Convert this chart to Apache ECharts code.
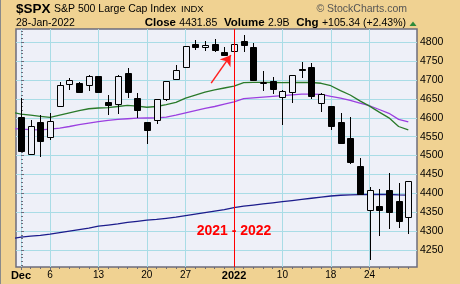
<!DOCTYPE html>
<html><head><meta charset="utf-8">
<script src="https://cdn.jsdelivr.net/npm/echarts@6/dist/echarts.min.js"></script>
<style>html,body{margin:0;padding:0;background:#F0D292;}#c{width:460px;height:284px;}</style>
</head><body><div id="c"></div>
<script>
const dates = ['Dec 1','Dec 2','Dec 3','Dec 6','Dec 7','Dec 8','Dec 9','Dec 10','Dec 13','Dec 14','Dec 15','Dec 16','Dec 17','Dec 20','Dec 21','Dec 22','Dec 23','Dec 27','Dec 28','Dec 29','Dec 30','Dec 31','Jan 3','Jan 4','Jan 5','Jan 6','Jan 7','Jan 10','Jan 11','Jan 12','Jan 13','Jan 14','Jan 18','Jan 19','Jan 20','Jan 21','Jan 24','Jan 25','Jan 26','Jan 27','Jan 28'];
const open = [4602.82,4504.73,4589.49,4548.37,4631.97,4690.86,4691.00,4687.64,4710.30,4642.99,4636.46,4719.13,4652.50,4587.90,4594.96,4650.36,4703.96,4733.99,4795.49,4788.64,4794.23,4775.21,4778.14,4804.51,4787.99,4693.39,4697.66,4655.34,4669.14,4728.59,4733.56,4637.99,4632.24,4588.03,4547.35,4471.38,4356.32,4366.64,4408.43,4380.58,4336.19];
const high = [4652.94,4595.46,4608.03,4612.60,4694.04,4705.06,4695.26,4713.57,4710.30,4660.47,4712.60,4731.99,4666.70,4587.90,4651.14,4697.67,4740.74,4791.49,4807.02,4804.06,4808.93,4786.83,4796.64,4818.62,4797.70,4725.01,4707.95,4673.02,4714.13,4748.83,4744.13,4665.13,4632.24,4611.55,4602.11,4494.52,4417.35,4411.01,4453.23,4428.74,4432.72];
const low = [4510.27,4504.73,4495.12,4540.51,4631.97,4674.52,4665.98,4670.24,4667.60,4606.52,4611.22,4651.89,4600.22,4531.10,4583.16,4645.53,4703.96,4733.99,4780.04,4778.08,4775.33,4765.75,4758.17,4774.27,4699.44,4671.26,4662.74,4582.24,4638.27,4706.71,4650.29,4614.75,4568.70,4530.20,4477.95,4395.34,4222.62,4287.11,4304.80,4309.50,4292.46];
const close = [4513.04,4577.10,4538.43,4591.67,4686.75,4701.21,4667.45,4712.02,4668.97,4634.09,4709.85,4668.67,4620.64,4568.02,4649.23,4696.56,4725.79,4791.19,4786.35,4793.06,4778.73,4766.18,4796.56,4793.54,4700.58,4696.05,4677.03,4670.29,4713.07,4726.35,4659.03,4662.85,4577.11,4532.76,4482.73,4397.94,4410.13,4356.45,4349.93,4326.51,4431.85];

// moving averages: first value belongs to the prior session (Nov 30), then one per date
const maGreen = [4615,4610,4607,4604,4601,4607,4613,4619,4624,4626,4627,4630,4633,4631,4628,4630,4635,4641,4652,4660,4668,4674,4679,4684,4693,4694,4694,4693.5,4693,4693.5,4694,4693.5,4691.5,4685,4672,4660.5,4645,4631,4615,4600,4577,4568];
const maPurple = [4572,4570,4568.5,4568,4570,4573,4577,4582,4586,4590,4593,4596,4597.5,4599,4599.5,4600,4602,4607,4613,4619,4625,4630,4636,4642,4651,4653,4655,4657,4659,4661,4662.5,4663,4662.3,4657,4652,4646,4639,4632,4622,4612,4596,4589];
const maBlue = [4280,4284,4287,4289,4292,4296,4300,4304,4308,4313,4316,4319,4323,4326,4329,4331,4334,4337,4341,4345,4349,4353,4357,4362,4366,4369,4372,4375,4378,4381,4384,4387,4390,4393,4395,4396,4396.5,4397,4397,4397,4396,4395.5];

const tickDates = ['Dec 1','Dec 6','Dec 13','Dec 20','Dec 27','Jan 3','Jan 10','Jan 18','Jan 24'];
const tickLabels = ['Dec','6','13','20','27','2022','10','18','24'];
const boldLabels = ['Dec','2022'];
const yTicks = [4250,4300,4350,4400,4450,4500,4550,4600,4650,4700,4750,4800];
const yMinorTicks = [4210,4220,4230,4240,4250,4260,4270,4280,4290,4300,4310,4320,4330,4340,4350,4360,4370,4380,4390,4400,4410,4420,4430,4440,4450,4460,4470,4480,4490,4500,4510,4520,4530,4540,4550,4560,4570,4580,4590,4600,4610,4620,4630,4640,4650,4660,4670,4680,4690,4700,4710,4720,4730,4740,4750,4760,4770,4780,4790,4800,4810,4820,4830];
const dividerDate = 'Jan 3';
const dividerText = '2021 - 2022';
const arrowFrom = [19.64, 4692];
const arrowTo = [21.67, 4766];

const FONT = '"Liberation Sans", Arial, sans-serif';
const GRID_COLOR = '#A9DCE6';
const tickIdx = tickDates.map(d => dates.indexOf(d));
const dayIdx = dates.map((d, i) => i);
const candleData = dates.map((d, i) => [i, open[i], close[i], low[i], high[i]]);
const maData = arr => arr.map((v, k) => [k - 1, v]);
const dividerIdx = dates.indexOf(dividerDate);

function renderCandle(params, api) {
  const i = api.value(0);
  const o = api.value(1), c = api.value(2), l = api.value(3), h = api.value(4);
  const po = api.coord([i, o]), pc = api.coord([i, c]), pl = api.coord([i, l]), ph = api.coord([i, h]);
  const x = Math.round(po[0]) + 0.5;
  const yTop = Math.round(Math.min(po[1], pc[1])) + 0.5;
  let yBot = Math.round(Math.max(po[1], pc[1])) + 0.5;
  if (yBot - yTop < 1) yBot = yTop + 1;
  const up = c >= o;
  const hw = 3;
  return {type: 'group', children: [
    {type: 'line', shape: {x1: x, y1: Math.round(ph[1]), x2: x, y2: Math.round(pl[1])}, style: {stroke: '#000', lineWidth: 1}},
    {type: 'rect', shape: {x: x - hw, y: yTop, width: hw * 2, height: yBot - yTop}, style: {fill: up ? '#EEF0F8' : '#000', stroke: '#000', lineWidth: 1}}
  ]};
}

const chart = echarts.init(document.getElementById('c'), null, {renderer: 'canvas'});
chart.setOption({
  animation: false,
  backgroundColor: '#F0D292',
  grid: {left: 16, right: 43, top: 29, bottom: 17, show: true, backgroundColor: '#EEF0F8', borderColor: '#6C6C7C', borderWidth: 1.5},
  xAxis: [{
    type: 'value', min: -0.517, max: 40.9,
    axisLine: {show: false},
    axisTick: {show: true, customValues: tickIdx, length: 3, lineStyle: {color: '#6C6C7C'}},
    axisLabel: {show: true, customValues: tickIdx, margin: 3, fontSize: 10, fontFamily: FONT, color: '#000',
      formatter: v => { const k = tickIdx.indexOf(Math.round(v)); if (k < 0) return ''; const t = tickLabels[k]; return boldLabels.includes(t) ? '{b|' + t + '}' : t; },
      rich: {b: {fontWeight: 'bold', fontSize: 11, fontFamily: FONT, color: '#000'}}},
    splitLine: {show: true, lineStyle: {color: GRID_COLOR, width: 1}}
  }, {
    type: 'value', min: -0.517, max: 40.9, position: 'bottom',
    axisLine: {show: false},
    axisTick: {show: true, customValues: dayIdx, length: 2, lineStyle: {color: '#6C6C7C'}},
    axisLabel: {show: false}, splitLine: {show: false}
  }],
  yAxis: [{
    type: 'value', position: 'right', min: 4205, max: 4835.2, scale: true,
    axisLine: {show: false},
    axisTick: {show: true, customValues: yTicks, length: 3, lineStyle: {color: '#6C6C7C'}},
    axisLabel: {show: true, customValues: yTicks, margin: 3, fontSize: 10.5, fontFamily: FONT, color: '#000', formatter: v => String(v)},
    splitLine: {show: true, lineStyle: {color: GRID_COLOR, width: 1}}
  }, {
    type: 'value', position: 'right', min: 4205, max: 4835.2, scale: true,
    axisLine: {show: false},
    axisTick: {show: true, customValues: yMinorTicks, length: 2, lineStyle: {color: '#6C6C7C'}},
    axisLabel: {show: false}, splitLine: {show: false}
  }],
  series: [
    {type: 'line', name: 'blue', data: maData(maBlue), showSymbol: false, clip: true, z: 2,
      lineStyle: {color: '#1C1C8C', width: 1.3}},
    {type: 'line', name: 'purple', data: maData(maPurple), showSymbol: false, clip: true, z: 2,
      lineStyle: {color: '#9B3FE0', width: 1.3}},
    {type: 'line', name: 'green', data: maData(maGreen), showSymbol: false, clip: true, z: 2,
      lineStyle: {color: '#2A7A2A', width: 1.3}},
    {type: 'custom', name: 'price', renderItem: renderCandle, data: candleData, clip: true, z: 3,
      encode: {x: 0, y: [1, 2, 3, 4]}},
    {type: 'line', name: 'divider', data: [], z: 4,
      markLine: {silent: true, symbol: 'none', animation: false, label: {show: false},
        lineStyle: {color: '#FF0000', width: 1, type: 'solid'},
        data: [{xAxis: dividerIdx}]},
      markPoint: {silent: true, animation: false,
        data: [{coord: [dividerIdx, 4300], symbol: 'circle', symbolSize: 0,
          label: {show: true, position: 'inside', formatter: dividerText, color: '#FF0000', fontWeight: 'bold', fontSize: 14, fontFamily: FONT}}]}},
    {type: 'line', name: 'arrow', data: [], z: 4,
      markLine: {silent: true, animation: false, symbol: ['none', 'arrow'], symbolSize: 10, label: {show: false},
        lineStyle: {color: '#FF2020', width: 1.5, type: 'solid'},
        itemStyle: {color: '#FF2020'},
        data: [[{coord: arrowFrom}, {coord: arrowTo}]]}}
  ],
  graphic: [
    {type: 'line', shape: {x1: 0.5, y1: 0, x2: 0.5, y2: 284}, style: {stroke: '#8A8A8A', lineWidth: 1}},
    {type: 'text', x: 16, y: 9, style: {text: '$SPX', font: 'bold 13.5px ' + FONT, fill: '#000', verticalAlign: 'middle'}},
    {type: 'text', x: 54, y: 9.5, style: {text: 'S&P 500 Large Cap Index', font: '10.5px ' + FONT, fill: '#000', verticalAlign: 'middle'}},
    {type: 'text', x: 181, y: 9.5, style: {text: 'INDX', font: '9.5px ' + FONT, fill: '#000', verticalAlign: 'middle'}},
    {type: 'text', x: 407, y: 9.5, style: {text: '\u00A9 StockCharts.com', font: '10.5px ' + FONT, fill: '#555', align: 'right', verticalAlign: 'middle'}},
    {type: 'text', x: 16, y: 23, style: {text: '28-Jan-2022', font: '10.5px ' + FONT, fill: '#000', verticalAlign: 'middle'}},
    {type: 'text', x: 406, y: 23, style: {
      text: '{b|Close} {n|4431.85}  {b|Volume} {n|2.9B}  {b|Chg} {n|+105.34 (+2.43%)}',
      align: 'right', verticalAlign: 'middle',
      rich: {b: {font: 'bold 11.5px ' + FONT, fill: '#000'}, n: {font: '10.5px ' + FONT, fill: '#000'}}}},
    {type: 'polygon', shape: {points: [[409.5, 26], [416.5, 26], [413, 21.5]]}, style: {fill: '#2E8B3A'}}
  ]
});
</script>
</body></html>
